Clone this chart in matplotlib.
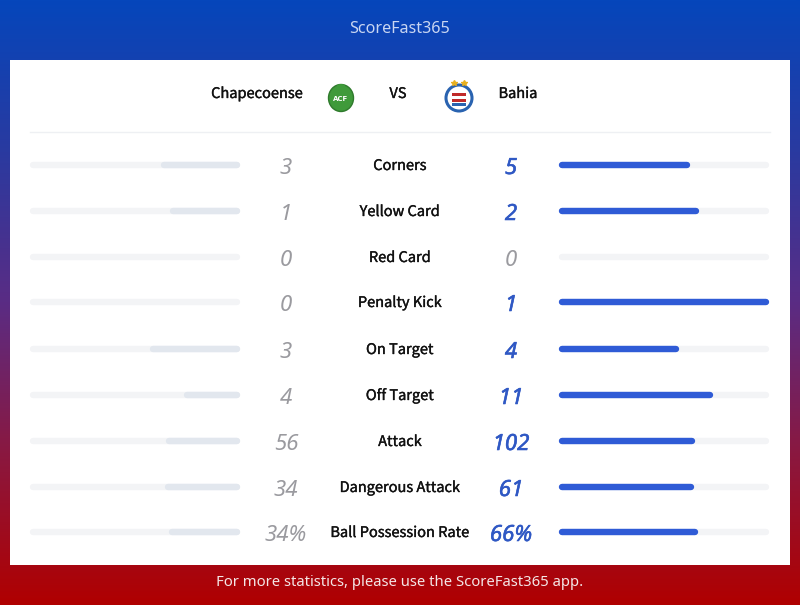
import numpy as np
import matplotlib.pyplot as plt
import matplotlib.patheffects as pe
from matplotlib.colors import LinearSegmentedColormap
from matplotlib.patches import Rectangle, Circle, Ellipse

home_team = 'Chapecoense'
away_team = 'Bahia'
stat_names = ['Corners', 'Yellow Card', 'Red Card', 'Penalty Kick', 'On Target',
              'Off Target', 'Attack', 'Dangerous Attack', 'Ball Possession Rate']
home_vals = [3, 1, 0, 0, 3, 4, 56, 34, 34]
away_vals = [5, 2, 0, 1, 4, 11, 102, 61, 66]
suffixes = ['', '', '', '', '', '', '', '', '%']

W, H = 800, 605
fig = plt.figure(figsize=(8, 6.05), dpi=100)
ax = fig.add_axes([0, 0, 1, 1])
ax.set_xlim(0, W)
ax.set_ylim(H, 0)
ax.axis('off')

# background gradient blue -> purple -> red
cmap = LinearSegmentedColormap.from_list('bg', ['#0546bb', '#2a3aa0', '#5a2c84', '#8a1840', '#b00000'])
grad = np.linspace(0, 1, 256).reshape(-1, 1)
ax.imshow(grad, cmap=cmap, aspect='auto', extent=[0, W, H, 0], zorder=0)

# white card
ax.add_patch(Rectangle((10, 60), 780, 505, facecolor='white', edgecolor='none', zorder=1))

ax.text(400, 29, 'ScoreFast365', ha='center', va='center', fontsize=11.6,
        color='#c9d6f2', family='Noto Sans')
ax.text(400, 582, 'For more statistics, please use the ScoreFast365 app.', ha='center',
        va='center', fontsize=10.7, color='#f4e6e6', family='Noto Sans')

medium = [pe.withStroke(linewidth=0.25, foreground='#111111')]
blue_med = [pe.withStroke(linewidth=0.4, foreground='#2f58c4')]

# team header
for x, s in [(257, home_team), (398, 'VS'), (518, away_team)]:
    ax.text(x, 94, s, ha='center', va='center', fontsize=10.5, color='#111111',
            family='Noto Sans CJK SC', path_effects=medium)

# simple logos
ax.add_patch(Ellipse((341, 98), 25, 27, facecolor='#3f9a3a', edgecolor='#2f7a2c', lw=1, zorder=3))
ax.add_patch(Ellipse((341, 86), 8, 4, facecolor='#3f9a3a', edgecolor='none', zorder=3))
ax.text(341, 99, 'ACF', ha='center', va='center', fontsize=5, color='white',
        fontweight='bold', zorder=4)
ax.add_patch(Circle((459, 98), 13, facecolor='white', edgecolor='#2a63b0', lw=2.2, zorder=3))
ax.add_patch(Rectangle((452, 93), 14, 3, facecolor='#c02a2a', edgecolor='none', zorder=4))
ax.add_patch(Rectangle((452, 99), 14, 3, facecolor='#c02a2a', edgecolor='none', zorder=4))
ax.add_patch(Rectangle((452, 103), 14, 3, facecolor='#2a63b0', edgecolor='none', zorder=4))
ax.plot([454, 464], [83, 83], ls='none', marker='*', ms=4, color='#e8b020', zorder=4)

ax.plot([30, 770], [132, 132], color='#eef0f3', lw=1, zorder=2)

row_y = [165, 211, 257, 302, 349, 395, 441, 487, 532]
track_w = 210
lx0, lx1 = 30, 240
rx0, rx1 = 559, 769
bar_lw = 4.6
cap = 3

for i, name in enumerate(stat_names):
    y = row_y[i]
    h = home_vals[i]
    a = away_vals[i]
    tot = h + a
    # tracks
    ax.plot([lx0 + cap, lx1 - cap], [y, y], color='#f3f4f6', lw=bar_lw,
            solid_capstyle='round', zorder=2)
    ax.plot([rx0 + cap, rx1 - cap], [y, y], color='#f3f4f6', lw=bar_lw,
            solid_capstyle='round', zorder=2)
    if tot > 0:
        hl = track_w * h / tot
        al = track_w * a / tot
        if hl > 0:
            ax.plot([lx1 - hl + cap, lx1 - cap], [y, y], color='#e2e7ee', lw=bar_lw,
                    solid_capstyle='round', zorder=3)
        if al > 0:
            ax.plot([rx0 + cap, rx0 + al - cap], [y, y], color='#2f5bd6', lw=bar_lw,
                    solid_capstyle='round', zorder=3)
    ax.text(400, y + 1, name, ha='center', va='center', fontsize=10.5, color='#111111',
            family='Noto Sans CJK SC', path_effects=medium)
    ax.text(286, y + 3.5, f'{h}{suffixes[i]}', ha='center', va='center', fontsize=16,
            color='#9a9a9f', style='italic', family='Noto Sans')
    if a > 0:
        ax.text(511, y + 3.5, f'{a}{suffixes[i]}', ha='center', va='center', fontsize=16,
                color='#2f58c4', style='italic', family='Noto Sans', path_effects=blue_med)
    else:
        ax.text(511, y + 3.5, f'{a}{suffixes[i]}', ha='center', va='center', fontsize=16,
                color='#9a9a9f', style='italic', family='Noto Sans')

fig.savefig('out.png', dpi=100)
